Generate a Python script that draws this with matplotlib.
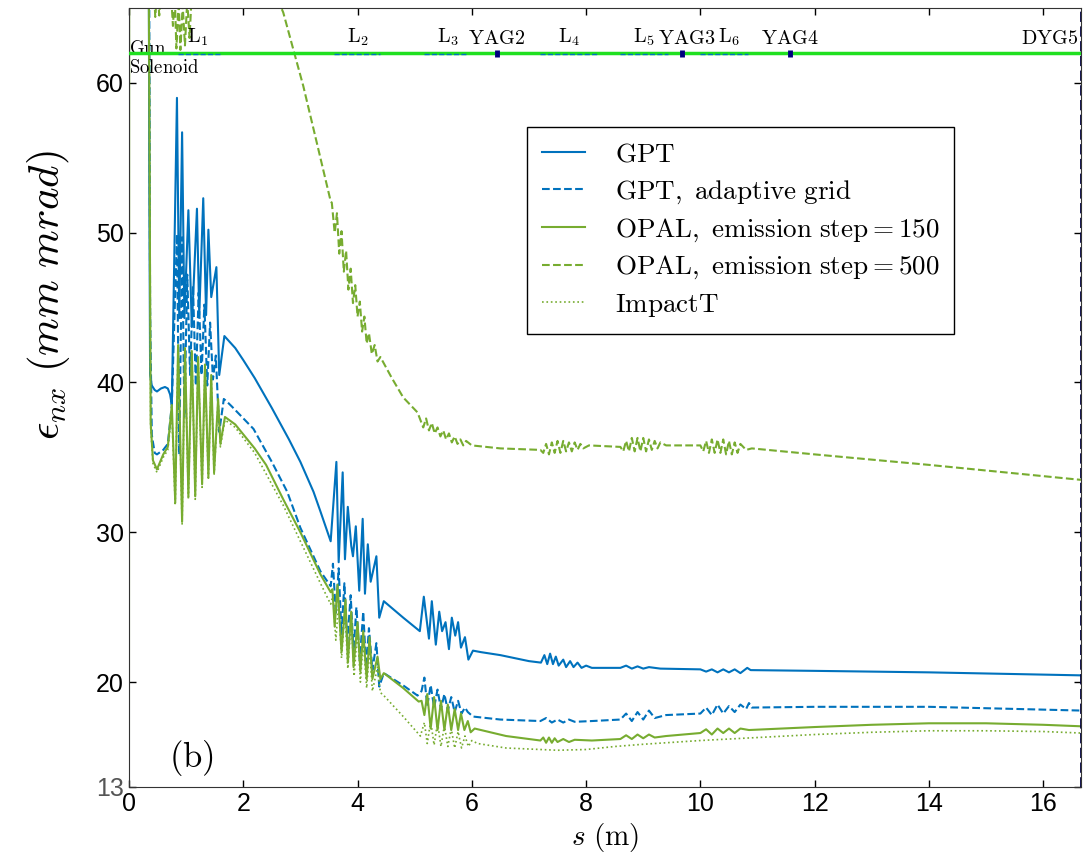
import matplotlib
matplotlib.use('Agg')
import matplotlib.pyplot as plt

plt.rcParams['mathtext.fontset'] = 'cm'
plt.rcParams['font.family'] = ['Liberation Sans', 'DejaVu Sans']

# emittance along the beamline, (s [m], eps_nx [mm mrad])
gpt = [(0.34, 80), (0.355, 55), (0.37, 40.5), (0.40, 39.8), (0.45, 39.5), (0.49, 39.4),
       (0.56, 39.6), (0.63, 39.7), (0.68, 39.6), (0.72, 39.2), (0.75, 38.5),
       (0.84, 59.0), (0.88, 44.3), (0.93, 56.7), (0.97, 44.3), (1.04, 51.5), (1.10, 43.7),
       (1.19, 51.6), (1.23, 44.5), (1.30, 52.3), (1.35, 44.5), (1.39, 50.2), (1.44, 45.7),
       (1.53, 47.7), (1.58, 40.5), (1.67, 43.1), (1.86, 42.3), (2.0, 41.5), (2.2, 40.3),
       (2.5, 38.3), (2.8, 36.2), (3.0, 34.7), (3.23, 32.7), (3.35, 31.4), (3.53, 29.4),
       (3.63, 34.7), (3.67, 28.0), (3.74, 34.0), (3.78, 28.2), (3.83, 31.7), (3.89, 29.1),
       (3.92, 28.4), (3.97, 30.4), (4.03, 26.1), (4.09, 30.9), (4.13, 25.9), (4.18, 29.2),
       (4.23, 26.7), (4.33, 28.4), (4.38, 24.3), (4.46, 25.4), (4.8, 24.3), (5.09, 23.4),
       (5.16, 25.7), (5.25, 22.9), (5.30, 25.4), (5.37, 22.5), (5.43, 24.7), (5.48, 23.4),
       (5.54, 24.0), (5.60, 22.2), (5.65, 24.3), (5.71, 23.1), (5.76, 24.0), (5.81, 22.3),
       (5.88, 23.0), (5.94, 21.5), (6.02, 22.1), (6.16, 22.0), (6.5, 21.8), (7.0, 21.4),
       (7.21, 21.3), (7.27, 21.8), (7.32, 21.2), (7.37, 21.9), (7.42, 21.2), (7.47, 21.7),
       (7.52, 21.1), (7.60, 21.5), (7.65, 21.0), (7.72, 21.4), (7.78, 21.0), (7.85, 21.3),
       (7.92, 20.95), (8.0, 21.1), (8.1, 20.95), (8.6, 20.95), (8.7, 21.1), (8.8, 20.9),
       (8.9, 21.05), (9.0, 20.9), (9.1, 21.0), (9.3, 20.9), (10.0, 20.85), (10.1, 20.7),
       (10.2, 20.85), (10.3, 20.65), (10.4, 20.85), (10.5, 20.65), (10.6, 20.85),
       (10.7, 20.6), (10.82, 20.95), (10.88, 20.8), (12.0, 20.75), (14.0, 20.65),
       (16.66, 20.45)]

gpt_adapt = [(0.345, 80), (0.37, 45), (0.40, 36.5), (0.45, 35.3), (0.49, 35.2), (0.60, 35.5),
             (0.68, 35.9), (0.75, 38.5), (0.84, 49.9), (0.88, 35.2), (0.93, 49.7), (0.97, 37.7),
             (1.02, 47.2), (1.07, 40.5), (1.12, 46.5), (1.17, 39.8), (1.22, 46.0), (1.27, 40.5),
             (1.32, 45.2), (1.37, 39.8), (1.42, 44.0), (1.47, 40.2), (1.52, 41.8), (1.58, 36.7),
             (1.66, 38.9), (1.72, 38.7), (1.8, 38.4), (2.18, 36.9), (2.5, 34.7), (2.77, 32.7),
             (3.0, 30.3), (3.35, 27.4), (3.53, 26.4), (3.57, 27.9), (3.62, 24.5), (3.67, 27.6),
             (3.72, 23.2), (3.77, 26.6), (3.82, 22.6), (3.88, 25.8), (3.93, 22.0), (3.98, 25.0),
             (4.04, 21.5), (4.10, 24.7), (4.15, 21.0), (4.20, 23.6), (4.26, 20.8), (4.33, 22.6),
             (4.38, 19.7), (4.46, 20.6), (4.81, 19.75), (5.05, 19.1), (5.12, 19.4), (5.17, 20.3),
             (5.22, 18.4), (5.28, 19.8), (5.34, 18.3), (5.40, 19.5), (5.46, 18.2), (5.52, 19.2),
             (5.58, 18.1), (5.64, 19.0), (5.70, 18.0), (5.76, 18.75), (5.82, 17.9), (5.88, 18.3),
             (5.93, 18.0), (6.02, 17.7), (6.5, 17.5), (7.2, 17.4), (7.3, 17.6), (7.4, 17.3),
             (7.5, 17.5), (7.6, 17.3), (7.7, 17.5), (7.8, 17.35), (8.1, 17.4), (8.6, 17.5),
             (8.7, 17.9), (8.8, 17.4), (8.9, 18.0), (9.0, 17.5), (9.1, 18.1), (9.2, 17.6),
             (9.4, 17.8), (10.0, 17.9), (10.1, 18.3), (10.2, 17.8), (10.3, 18.5), (10.4, 17.9),
             (10.5, 18.4), (10.6, 18.0), (10.7, 18.5), (10.8, 18.2), (10.85, 18.6), (10.9, 18.3),
             (12.0, 18.35), (14.0, 18.35), (16.66, 18.1)]

opal150 = [(0.0, 13.0), (0.005, 80), (0.33, 80), (0.355, 60), (0.38, 37.3), (0.42, 34.8),
           (0.49, 34.2), (0.60, 35.2), (0.68, 35.7), (0.75, 38.5), (0.81, 32.0), (0.86, 42.5),
           (0.93, 30.7), (0.98, 42.3), (1.04, 32.4), (1.10, 42.1), (1.16, 32.4), (1.21, 41.7),
           (1.28, 33.2), (1.33, 41.2), (1.39, 33.7), (1.44, 40.5), (1.49, 34.0), (1.56, 38.9),
           (1.60, 35.9), (1.68, 37.7), (1.86, 37.2), (2.2, 35.6), (2.4, 34.5), (2.7, 32.2),
           (3.0, 30.0), (3.35, 27.2), (3.53, 26.0), (3.56, 26.2), (3.60, 23.7), (3.65, 26.5),
           (3.72, 22.0), (3.79, 25.5), (3.83, 21.3), (3.89, 24.7), (3.93, 21.0), (4.00, 24.0),
           (4.05, 20.7), (4.10, 23.4), (4.16, 20.2), (4.21, 23.0), (4.26, 20.2), (4.35, 21.7),
           (4.40, 20.2), (4.46, 20.6), (4.8, 19.6), (5.07, 18.7), (5.12, 18.75), (5.17, 17.8),
           (5.22, 19.2), (5.28, 16.9), (5.34, 19.0), (5.40, 16.8), (5.46, 18.75), (5.52, 16.8),
           (5.58, 18.5), (5.64, 16.8), (5.70, 18.2), (5.76, 16.8), (5.81, 17.9), (5.87, 16.8),
           (5.93, 17.4), (5.98, 16.65), (6.05, 16.9), (6.16, 16.8), (6.6, 16.4), (7.2, 16.1),
           (7.25, 16.3), (7.3, 15.95), (7.35, 16.3), (7.4, 15.95), (7.45, 16.25), (7.5, 16.0),
           (7.6, 16.2), (7.7, 16.0), (7.8, 16.15), (8.1, 16.1), (8.6, 16.2), (8.7, 16.45),
           (8.8, 16.2), (8.9, 16.5), (9.0, 16.25), (9.1, 16.5), (9.2, 16.3), (9.4, 16.4),
           (10.0, 16.6), (10.1, 16.85), (10.2, 16.5), (10.3, 16.9), (10.4, 16.6), (10.5, 16.9),
           (10.6, 16.6), (10.7, 16.9), (10.85, 16.8), (12.0, 17.0), (13.0, 17.15), (14.0, 17.25),
           (15.0, 17.25), (16.0, 17.15), (16.66, 17.05)]

opal500 = [(0.35, 80), (0.42, 68), (0.46, 64.4), (0.50, 66.5), (0.53, 64.5), (0.57, 67),
           (0.72, 67), (0.77, 63.8), (0.80, 66), (0.83, 62.3), (0.87, 65.5), (0.90, 62.2),
           (0.94, 65.2), (0.98, 62.5), (1.02, 65.5), (1.06, 63.0), (1.10, 66), (1.6, 70),
           (2.2, 68), (2.6, 65.6), (2.7, 64.7), (3.05, 59.8), (3.3, 55.8), (3.53, 52.1),
           (3.55, 52.0), (3.60, 50.0), (3.64, 51.3), (3.68, 48.6), (3.72, 50.1), (3.76, 47.4),
           (3.80, 48.8), (3.84, 46.2), (3.88, 47.6), (3.92, 45.3), (3.96, 46.5), (4.00, 44.4),
           (4.04, 45.4), (4.08, 43.4), (4.12, 44.4), (4.16, 42.6), (4.20, 43.3), (4.25, 41.9),
           (4.30, 42.5), (4.35, 41.4), (4.40, 41.7), (4.6, 40.3), (4.8, 39.0), (5.05, 38.0),
           (5.10, 37.5), (5.15, 37.0), (5.20, 37.6), (5.25, 36.8), (5.30, 37.3), (5.35, 36.6),
           (5.40, 37.0), (5.45, 36.4), (5.50, 36.8), (5.55, 36.2), (5.60, 36.6), (5.65, 36.0),
           (5.70, 36.4), (5.75, 35.9), (5.80, 36.2), (5.85, 35.8), (5.90, 36.1), (6.0, 35.8),
           (6.5, 35.6), (7.2, 35.5), (7.25, 35.3), (7.3, 35.9), (7.35, 35.2), (7.4, 36.0),
           (7.45, 35.3), (7.5, 36.1), (7.55, 35.3), (7.6, 36.1), (7.65, 35.4), (7.7, 36.0),
           (7.75, 35.4), (7.8, 36.0), (7.85, 35.5), (7.9, 35.9), (7.95, 35.6), (8.05, 35.8),
           (8.6, 35.7), (8.65, 35.4), (8.7, 36.1), (8.75, 35.4), (8.8, 36.3), (8.85, 35.4),
           (8.9, 36.3), (8.95, 35.4), (9.0, 36.3), (9.05, 35.4), (9.1, 36.2), (9.15, 35.5),
           (9.2, 36.1), (9.25, 35.6), (9.3, 36.0), (9.4, 35.8), (10.0, 35.8), (10.05, 35.4),
           (10.1, 36.1), (10.15, 35.3), (10.2, 36.2), (10.25, 35.3), (10.3, 36.2), (10.35, 35.3),
           (10.4, 36.2), (10.45, 35.2), (10.5, 36.1), (10.55, 35.2), (10.6, 36.0), (10.65, 35.3),
           (10.7, 35.9), (10.8, 35.5), (10.9, 35.6), (12.0, 35.2), (14.0, 34.5), (16.66, 33.5)]

impactt = [(0.0, 13.0), (0.005, 80), (0.33, 80), (0.36, 60), (0.38, 37.0), (0.42, 34.6),
           (0.49, 34.0), (0.60, 35.0), (0.68, 35.5), (0.75, 38.0), (0.81, 31.8), (0.86, 42.4),
           (0.93, 30.5), (0.98, 42.2), (1.04, 32.2), (1.10, 42.0), (1.16, 32.2), (1.21, 41.6),
           (1.28, 33.0), (1.33, 41.0), (1.39, 33.5), (1.44, 40.3), (1.49, 33.8), (1.56, 38.8),
           (1.60, 35.7), (1.68, 37.5), (1.86, 37.0), (2.2, 35.3), (2.7, 31.8), (3.0, 29.4),
           (3.35, 26.6), (3.53, 25.2), (3.57, 25.8), (3.62, 22.8), (3.67, 25.3), (3.72, 21.6),
           (3.78, 24.8), (3.83, 20.9), (3.89, 24.2), (3.94, 20.4), (4.00, 23.5), (4.05, 20.0),
           (4.10, 22.8), (4.16, 19.6), (4.21, 22.3), (4.26, 19.4), (4.35, 21.0), (4.40, 19.3),
           (4.46, 19.1), (4.8, 17.7), (5.1, 16.4), (5.17, 17.3), (5.22, 15.9), (5.28, 17.4),
           (5.34, 15.8), (5.40, 17.3), (5.46, 15.7), (5.52, 17.1), (5.58, 15.7), (5.64, 16.9),
           (5.70, 15.6), (5.76, 16.7), (5.82, 15.6), (5.88, 16.4), (5.94, 15.7), (6.0, 16.1),
           (6.1, 15.9), (6.6, 15.6), (7.2, 15.5), (7.5, 15.45), (8.0, 15.5), (8.5, 15.7),
           (9.0, 15.85), (10.0, 16.1), (11.0, 16.3), (12.0, 16.5), (13.0, 16.65), (14.0, 16.75),
           (15.0, 16.75), (16.0, 16.7), (16.66, 16.6)]

# beamline layout drawn at the top
beam_y = 62.0
s_end = 16.66
lenses = [(0.86, 1.6), (3.58, 4.4), (5.16, 5.93), (7.2, 8.2), (8.6, 9.44), (10.0, 10.84)]
screens = [6.44, 9.68, 11.56]
elem_names = [r'$\mathrm{L}_1$', r'$\mathrm{L}_2$', r'$\mathrm{L}_3$', r'$\mathrm{YAG2}$',
              r'$\mathrm{L}_4$', r'$\mathrm{L}_5$', r'$\mathrm{YAG3}$', r'$\mathrm{L}_6$',
              r'$\mathrm{YAG4}$']
elem_pos = [1.2, 4.0, 5.58, 6.44, 7.7, 9.02, 9.76, 10.5, 11.56]

blue = '#0072BD'
green = '#77AC30'

fig = plt.figure(figsize=(10.91, 8.58), dpi=100)
ax = fig.add_axes([0.1182, 0.0828, 0.8726, 0.9079])

ax.plot(*zip(*gpt), color=blue, lw=1.5, label=r'$\mathrm{GPT}$')
ax.plot(*zip(*gpt_adapt), color=blue, lw=1.5, ls='--', label=r'$\mathrm{GPT,\ adaptive\ grid}$')
ax.plot(*zip(*opal150), color=green, lw=1.5, label=r'$\mathrm{OPAL,\ emission\ step} = 150$')
ax.plot(*zip(*opal500), color=green, lw=1.5, ls='--', label=r'$\mathrm{OPAL,\ emission\ step} = 500$')
ax.plot(*zip(*impactt), color=green, lw=1.2, ls=':', label=r'$\mathrm{ImpactT}$')

# beamline
ax.plot([0, s_end], [beam_y, beam_y], color='#1fe01f', lw=2.5, zorder=5)
for a, b in lenses:
    ax.plot([a, b], [beam_y - 0.05, beam_y - 0.05], color=blue, lw=1, ls='--', zorder=6)
ax.vlines(screens, beam_y - 0.28, beam_y + 0.22, color='#00007f', lw=3.5, zorder=7)
ax.axvline(s_end, color='#000040', lw=2, ls='--', zorder=7)
for name, pos in zip(elem_names, elem_pos):
    ax.text(pos, beam_y + 0.3, name, ha='center', va='bottom', fontsize=14.5)
ax.text(s_end - 0.05, beam_y + 0.3, r'$\mathrm{DYG5}$', ha='right', va='bottom', fontsize=14.5)
ax.text(0.0, beam_y + 0.25, r'$\mathrm{Gun}$', ha='left', va='center', fontsize=13.5)
ax.text(0.0, beam_y - 1.0, r'$\mathrm{Solenoid}$', ha='left', va='center', fontsize=13.5)

ax.text(1.09, 14.9, r'$\mathrm{(b)}$', ha='center', va='center', fontsize=25)

ax.set_xlim(0, s_end)
ax.set_ylim(13, 65)
ax.set_xticks([0, 2, 4, 6, 8, 10, 12, 14, 16])
ax.set_yticks([13, 20, 30, 40, 50, 60])
ax.tick_params(direction='in', top=True, right=True, length=5, width=1, labelsize=18)
ax.get_yticklabels()[0].set_color('#555555')
for sp in ax.spines.values():
    sp.set_color('#333333')

ax.set_xlabel(r'$s\ \mathrm{(m)}$', fontsize=21, labelpad=4)
ax.set_ylabel(r'$\epsilon_{nx}\ (mm\ mrad)$', fontsize=31)
ax.yaxis.set_label_coords(-0.06, 0.632)

leg = ax.legend(loc='upper left', bbox_to_anchor=(0.483, 0.852), bbox_transform=fig.transFigure,
                fontsize=19.5, fancybox=False, handlelength=1.6, handletextpad=1.1,
                borderaxespad=0, borderpad=0.55, labelspacing=0.38)
leg.get_frame().set_edgecolor('black')
leg.get_frame().set_linewidth(1.0)
leg.get_frame().set_alpha(1)

fig.savefig('out.png', dpi=100)
